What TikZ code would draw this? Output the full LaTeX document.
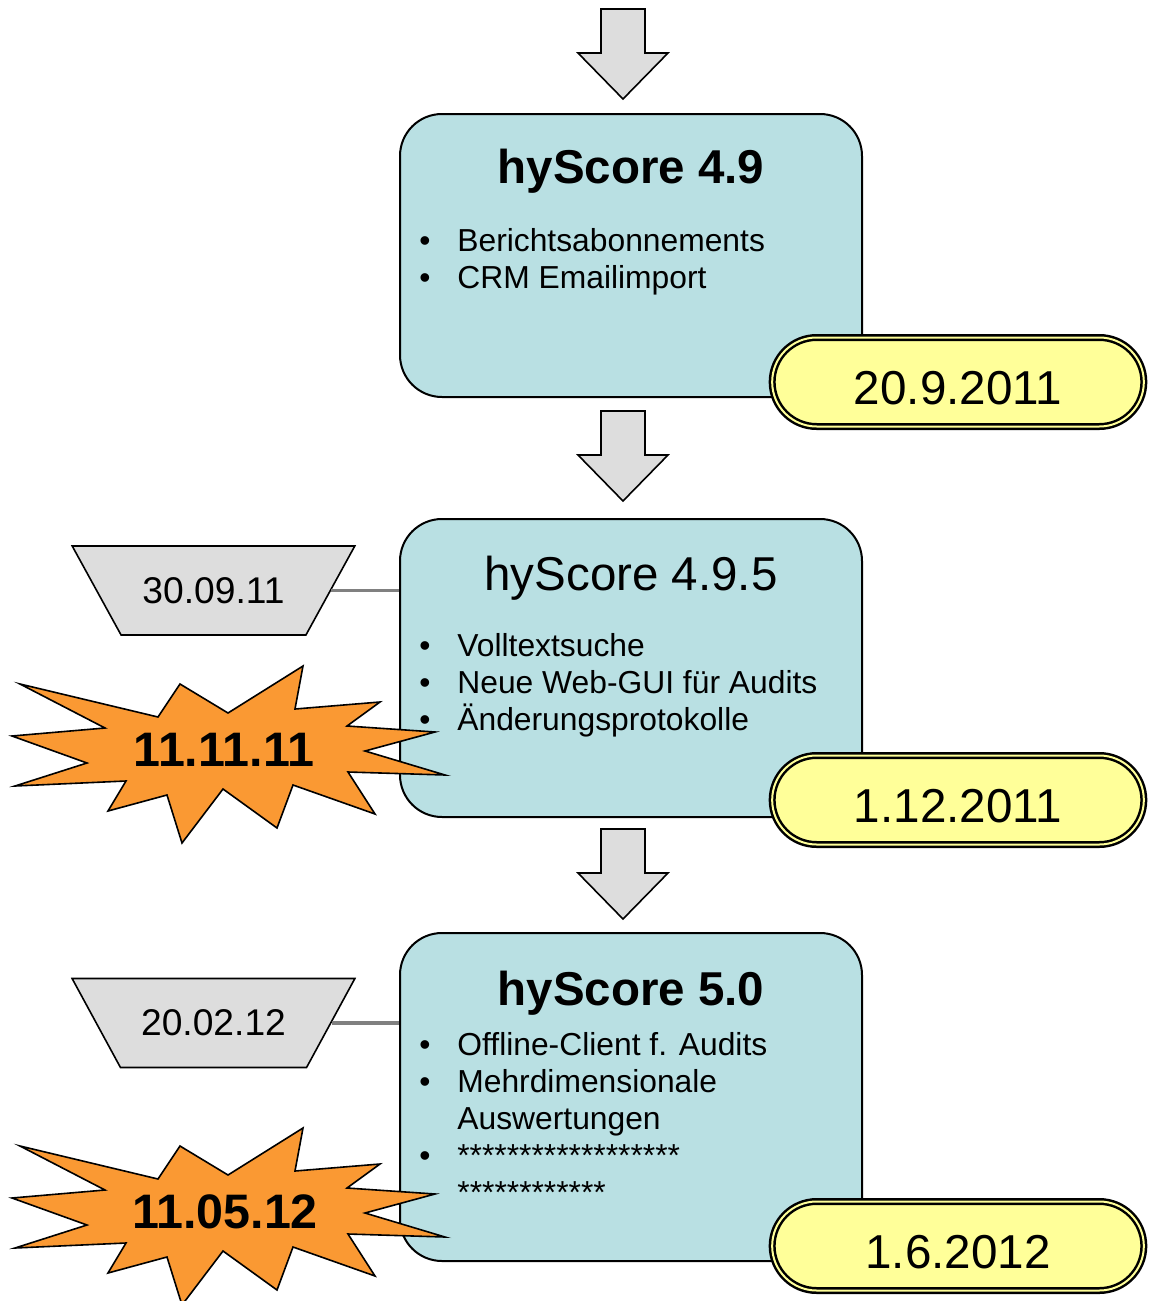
\documentclass[tikz,border=0pt]{standalone}
\usepackage{fontspec}
\setmainfont{Liberation Sans}
\definecolor{boxcyan}{RGB}{185, 224, 227}
\definecolor{datepale}{RGB}{255, 255, 153}
\definecolor{burstorange}{RGB}{250, 153, 51}
\definecolor{shapegray}{RGB}{221, 221, 221}
\definecolor{linegray}{RGB}{128, 128, 128}
\usetikzlibrary{shapes.geometric, shapes.misc, positioning}
\newcommand{\bul}{\makebox[19pt][l]{\textbullet}}
\newcommand{\nob}{\makebox[19pt][l]{}}

\begin{document}
\begin{tikzpicture}[x=0.5pt, y=-0.5pt,
  release/.style={draw, line width=1pt, fill=boxcyan, rounded corners=21pt, minimum width=231pt},
  title/.style={anchor=base, inner sep=0pt, font=\fontsize{23.75}{28}\selectfont},
  items/.style={anchor=base west, inner sep=0pt, align=left, font=\fontsize{15.9}{18.4}\selectfont},
  datepill/.style={draw, rounded rectangle, line width=1.25pt, double=datepale, double distance=1pt, fill=datepale, minimum width=192.5pt, minimum height=44.5pt, text height=22.75pt, text depth=0pt, font=\fontsize{23.8}{28}\selectfont},
  plandate/.style={draw, line width=0.8pt, fill=shapegray, trapezium, shape border rotate=180, trapezium stretches=true, trapezium left angle=44, trapezium right angle=44, minimum width=141.5pt, minimum height=44.5pt, font=\fontsize{18.6}{22}\selectfont},
  blockarrow/.style={draw, line width=0.8pt, fill=shapegray, line join=miter},
  burst/.style={draw, line width=0.8pt, fill=burstorange, line join=miter},
  stamp/.style={inner sep=0pt, font=\bfseries\fontsize{24.2}{28}\selectfont},
  tick/.style={draw=linegray, line width=1.75pt}]
  \useasboundingbox (0,0) rectangle (1148,1301);

  % arrows between the releases
  \draw[blockarrow] (601,9) -- ++(44,0) -- ++(0,44) -- ++(23,0) -- ++(-45,46) -- ++(-45,-46) -- ++(23,0) -- cycle;
  \draw[blockarrow] (601,411) -- ++(44,0) -- ++(0,44) -- ++(23,0) -- ++(-45,46) -- ++(-45,-46) -- ++(23,0) -- cycle;
  \draw[blockarrow] (601,829) -- ++(44,0) -- ++(0,44) -- ++(23,0) -- ++(-45,46) -- ++(-45,-46) -- ++(23,0) -- cycle;

  % release boxes
  \node[release, minimum height=141.5pt] (v49) at (631, 255.5) {};
  \node[title, font=\bfseries\fontsize{23.75}{28}\selectfont] (v49title) at (631,183) {hyScore 4.9};
  \node[items] (v49items) at (419,288) {\bul Berichtsabonnements\\ \bul CRM Emailimport};

  \node[release, minimum height=149pt] (v495) at (631, 668) {};
  \node[title] (v495title) at (631,590) {hyScore 4.9.5};
  \node[items] (v495items) at (419,730) {\bul Volltextsuche\\ \bul Neue Web-GUI für Audits\\ \bul Änderungsprotokolle};

  \node[release, minimum height=164pt] (v50) at (631, 1097) {};
  \node[title, font=\bfseries\fontsize{23.75}{28}\selectfont] (v50title) at (631,1005) {hyScore 5.0};
  \node[items] (v50items) at (419,1203) {\bul Offline-Client f. Audits\\ \bul Mehrdimensionale\\ \nob Auswertungen\\ \bul ******************\\ \nob ************};

  % release dates
  \node[datepill] (d49) at (958,382) {20.9.2011};
  \node[datepill] (d495) at (958,800) {1.12.2011};
  \node[datepill] (d50) at (958,1246) {1.6.2012};

  % planned dates
  \node[plandate] (p495) at (213.5,590.5) {30.09.11};
  \node[plandate] (p50) at (213.5,1023) {20.02.12};
  \draw[tick] (p495.east) -- (p495.east -| v495.west);
  \draw[tick] (p50.east) -- (p50.east -| v50.west);

  % actual dates
  \draw[burst] (20,684) -- (158,717) -- (180,684) -- (228,713) -- (303,666) -- (295,709) -- (380,702) -- (347,726) -- (435,732) -- (365,751) -- (445,775) -- (348,772) -- (375,814) -- (293,785) -- (277,828) -- (223,789) -- (182,843) -- (167,795) -- (108,811) -- (126,781) -- (15,786) -- (87,763) -- (12,736) -- (105,728) -- cycle;
  \node[stamp] (s495) at (224,749.5) {11.11.11};
  \begin{scope}[shift={(0,462)}]
    \draw[burst] (20,684) -- (158,717) -- (180,684) -- (228,713) -- (303,666) -- (295,709) -- (380,702) -- (347,726) -- (435,732) -- (365,751) -- (445,775) -- (348,772) -- (375,814) -- (293,785) -- (277,828) -- (223,789) -- (182,843) -- (167,795) -- (108,811) -- (126,781) -- (15,786) -- (87,763) -- (12,736) -- (105,728) -- cycle;
    \node[stamp] (s50) at (225,749.5) {11.05.12};
  \end{scope}
\end{tikzpicture}
\end{document}
